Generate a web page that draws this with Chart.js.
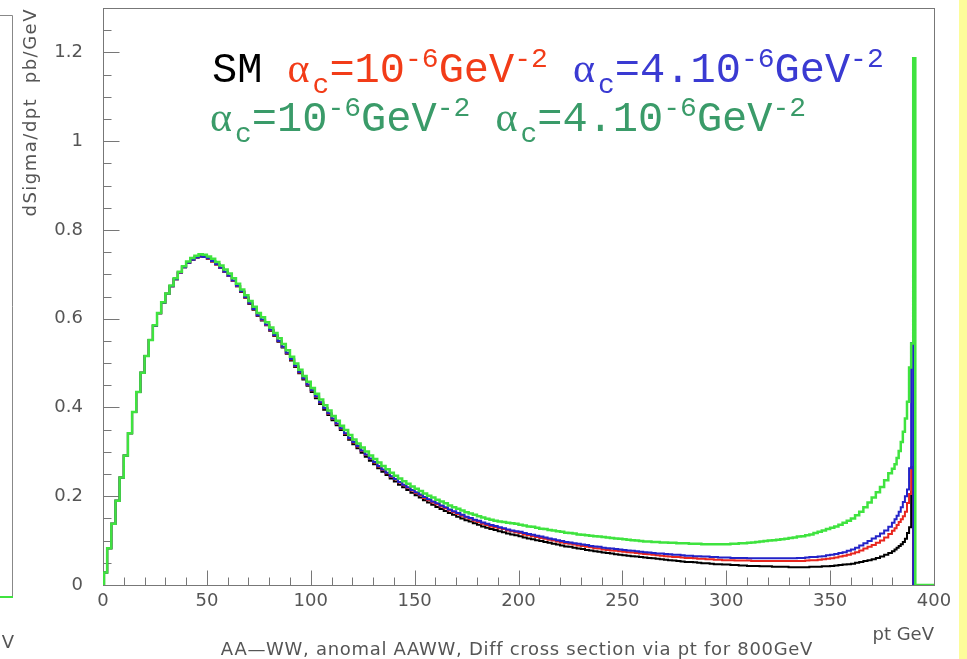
<!DOCTYPE html>
<html><head><meta charset="utf-8">
<script src="https://cdn.jsdelivr.net/npm/chart.js@4.4.0/dist/chart.umd.min.js"></script>
<style>html,body{margin:0;padding:0;background:#fff;overflow:hidden}canvas{display:block}</style>
</head><body>
<canvas id="c" width="967" height="659"></canvas>
<script>
// ---- histogram binning (GeV): [from, to, bin width]
const binLayout = [[0, 380, 2], [380, 391, 1]];
const binCenters = [];
for (const [a, b, w] of binLayout) for (let e = a; e < b - 1e-9; e += w) binCenters.push(e + w / 2);

// ---- series values (pb/GeV), one per bin
const smValues = [
 0.028,0.083,0.138,0.190,0.242,0.292,0.342,0.390,0.435,0.478,
 0.516,0.552,0.584,0.612,0.636,0.656,0.673,0.689,0.704,0.716,
 0.726,0.733,0.738,0.740,0.739,0.735,0.729,0.722,0.714,0.705,
 0.696,0.685,0.673,0.660,0.647,0.633,0.620,0.606,0.596,0.585,
 0.573,0.561,0.548,0.535,0.521,0.506,0.491,0.477,0.463,0.449,
 0.435,0.421,0.408,0.395,0.383,0.371,0.360,0.349,0.338,0.327,
 0.317,0.308,0.298,0.289,0.280,0.272,0.263,0.255,0.248,0.240,
 0.233,0.226,0.220,0.214,0.208,0.202,0.197,0.191,0.186,0.181,
 0.176,0.171,0.167,0.162,0.158,0.154,0.150,0.146,0.143,0.139,
 0.136,0.132,0.129,0.126,0.124,0.121,0.119,0.116,0.114,0.112,
 0.110,0.107,0.105,0.103,0.101,0.099,0.097,0.095,0.093,0.091,
 0.089,0.087,0.086,0.084,0.082,0.081,0.079,0.078,0.076,0.075,
 0.073,0.072,0.071,0.069,0.068,0.067,0.066,0.065,0.064,0.063,
 0.062,0.061,0.060,0.059,0.058,0.057,0.056,0.055,0.054,0.053,
 0.052,0.052,0.051,0.050,0.049,0.049,0.048,0.047,0.047,0.046,
 0.046,0.045,0.045,0.044,0.044,0.043,0.043,0.043,0.042,0.042,
 0.042,0.041,0.041,0.041,0.041,0.040,0.040,0.040,0.040,0.040,
 0.041,0.041,0.041,0.042,0.042,0.043,0.044,0.045,0.046,0.047,
 0.048,0.050,0.052,0.054,0.056,0.058,0.061,0.064,0.068,0.072,
 0.076,0.080,0.084,0.088,0.092,0.097,0.104,0.117,0.130,0.210,0
];
const alpha1Values = [
 0.028,0.083,0.138,0.190,0.242,0.292,0.342,0.390,0.435,0.478,
 0.516,0.552,0.584,0.612,0.636,0.656,0.673,0.689,0.704,0.716,
 0.726,0.733,0.738,0.740,0.739,0.735,0.729,0.722,0.714,0.705,
 0.696,0.685,0.673,0.661,0.648,0.634,0.621,0.607,0.597,0.586,
 0.574,0.562,0.549,0.536,0.522,0.508,0.493,0.479,0.465,0.451,
 0.438,0.424,0.411,0.398,0.386,0.374,0.363,0.352,0.341,0.330,
 0.321,0.312,0.302,0.293,0.284,0.276,0.267,0.259,0.252,0.244,
 0.238,0.231,0.225,0.219,0.213,0.207,0.202,0.196,0.191,0.186,
 0.182,0.177,0.173,0.168,0.164,0.160,0.156,0.152,0.149,0.145,
 0.142,0.138,0.135,0.132,0.130,0.128,0.126,0.123,0.121,0.119,
 0.117,0.114,0.112,0.110,0.108,0.106,0.104,0.102,0.100,0.098,
 0.096,0.094,0.093,0.091,0.089,0.088,0.086,0.085,0.083,0.082,
 0.080,0.079,0.078,0.077,0.076,0.075,0.074,0.073,0.072,0.071,
 0.070,0.069,0.068,0.067,0.066,0.065,0.064,0.063,0.063,0.062,
 0.061,0.061,0.060,0.059,0.059,0.058,0.058,0.057,0.057,0.056,
 0.056,0.056,0.055,0.055,0.055,0.055,0.054,0.054,0.054,0.054,
 0.054,0.054,0.054,0.054,0.054,0.054,0.054,0.054,0.054,0.055,
 0.056,0.056,0.057,0.058,0.059,0.060,0.062,0.064,0.066,0.068,
 0.071,0.074,0.078,0.082,0.086,0.090,0.095,0.100,0.107,0.115,
 0.122,0.128,0.135,0.142,0.148,0.155,0.165,0.185,0.205,0.266,0
];
const alpha4Values = [
 0.028,0.083,0.138,0.190,0.242,0.292,0.342,0.390,0.435,0.478,
 0.516,0.552,0.584,0.612,0.636,0.656,0.673,0.689,0.704,0.716,
 0.726,0.733,0.738,0.740,0.739,0.736,0.730,0.723,0.715,0.706,
 0.697,0.686,0.674,0.662,0.649,0.635,0.622,0.608,0.598,0.587,
 0.575,0.563,0.550,0.537,0.523,0.509,0.494,0.480,0.466,0.452,
 0.439,0.425,0.412,0.399,0.387,0.375,0.364,0.353,0.342,0.331,
 0.322,0.313,0.303,0.294,0.285,0.277,0.268,0.260,0.253,0.245,
 0.239,0.232,0.226,0.220,0.214,0.209,0.204,0.198,0.193,0.188,
 0.184,0.179,0.175,0.170,0.166,0.162,0.158,0.154,0.151,0.147,
 0.145,0.141,0.138,0.135,0.133,0.130,0.128,0.125,0.123,0.121,
 0.120,0.117,0.115,0.113,0.111,0.109,0.107,0.105,0.103,0.101,
 0.099,0.097,0.096,0.094,0.093,0.091,0.090,0.088,0.087,0.086,
 0.084,0.083,0.082,0.081,0.080,0.079,0.078,0.077,0.076,0.075,
 0.074,0.073,0.072,0.071,0.071,0.070,0.069,0.068,0.068,0.067,
 0.066,0.066,0.065,0.065,0.064,0.064,0.063,0.063,0.062,0.062,
 0.062,0.061,0.061,0.061,0.061,0.060,0.060,0.060,0.060,0.060,
 0.060,0.060,0.060,0.060,0.060,0.060,0.060,0.061,0.061,0.062,
 0.063,0.063,0.064,0.065,0.067,0.068,0.070,0.072,0.074,0.077,
 0.080,0.084,0.089,0.094,0.099,0.105,0.110,0.116,0.123,0.131,
 0.140,0.148,0.156,0.165,0.175,0.187,0.200,0.215,0.263,0.545,0
];
const alphaGreenValues = [
 0.028,0.083,0.138,0.190,0.242,0.292,0.342,0.390,0.435,0.478,
 0.516,0.552,0.585,0.613,0.637,0.657,0.675,0.691,0.706,0.718,
 0.729,0.737,0.742,0.745,0.744,0.740,0.735,0.728,0.720,0.711,
 0.702,0.691,0.679,0.666,0.653,0.640,0.627,0.613,0.603,0.592,
 0.580,0.568,0.556,0.543,0.529,0.514,0.499,0.485,0.471,0.458,
 0.444,0.431,0.418,0.405,0.393,0.381,0.370,0.359,0.349,0.338,
 0.328,0.319,0.310,0.301,0.292,0.284,0.276,0.268,0.261,0.253,
 0.246,0.240,0.234,0.228,0.222,0.217,0.212,0.206,0.201,0.197,
 0.192,0.188,0.184,0.179,0.175,0.172,0.168,0.164,0.161,0.158,
 0.155,0.152,0.149,0.147,0.145,0.143,0.142,0.140,0.139,0.138,
 0.136,0.134,0.132,0.131,0.129,0.127,0.126,0.124,0.123,0.121,
 0.120,0.118,0.117,0.116,0.114,0.113,0.112,0.111,0.110,0.109,
 0.108,0.107,0.106,0.105,0.104,0.103,0.102,0.101,0.100,0.099,
 0.098,0.098,0.097,0.097,0.096,0.096,0.095,0.095,0.094,0.094,
 0.094,0.093,0.093,0.093,0.092,0.092,0.092,0.092,0.092,0.092,
 0.092,0.093,0.093,0.094,0.094,0.095,0.096,0.097,0.098,0.099,
 0.100,0.101,0.102,0.103,0.104,0.106,0.107,0.109,0.110,0.112,
 0.114,0.117,0.120,0.123,0.126,0.129,0.132,0.136,0.140,0.145,
 0.150,0.157,0.165,0.175,0.186,0.197,0.209,0.221,0.236,0.252,
 0.262,0.272,0.286,0.302,0.322,0.345,0.375,0.413,0.490,0.544,1.187
];

// ---- axes
const xRange = [0, 400];
const yRange = [0, 1.3];
const xTickValues = [0, 50, 100, 150, 200, 250, 300, 350, 400];
const xTickLabels = ['0', '50', '100', '150', '200', '250', '300', '350', '400'];
const xMinorStep = 10;
const yTickValues = [0, 0.2, 0.4, 0.6, 0.8, 1.0, 1.2];
const yTickLabels = ['0', '0.2', '0.4', '0.6', '0.8', '1', '1.2'];
const yMinorStep = 0.05;
const xAxisTitle = 'pt GeV';
const yAxisTitle = 'dSigma/dpt  pb/GeV';
const plotTitle = 'AA\u2014WW, anomal AAWW, Diff cross section via pt for 800GeV';

// ---- legend
const legendSM = 'SM';
const legendCoeffs = ['10', '4.10'];
const legendExp = ['-6', '-2'];

const COL = { sm: '#000000', red: '#e8261e', blue: '#2323c8', green: '#3fe33f' };
const TXT = { red: '#f23c18', blue: '#3a3ad2', green: '#3a9b69' };

function toPoints(vals) {
  const pts = [{ x: 0, y: 0 }];
  binCenters.forEach((c, i) => pts.push({ x: c, y: vals[i] }));
  pts.push({ x: 391.5, y: 0 }, { x: 400, y: 0 });
  return pts;
}

const MONO = '42px "Liberation Mono"', SMALL = '28px "Liberation Mono"', GREEK = '42px "Liberation Serif"';
function alphaSegs(color, coeff) {
  return [
    { t: '\u03b1', font: GREEK, color, pad: 3 },
    { t: 'c', font: SMALL, color, dy: 11 },
    { t: '=' + coeff, font: MONO, color },
    { t: legendExp[0], font: SMALL, color, dy: -15 },
    { t: 'GeV', font: MONO, color },
    { t: legendExp[1], font: SMALL, color, dy: -15 }
  ];
}
function drawRich(ctx, x, y, segs) {
  ctx.textAlign = 'left'; ctx.textBaseline = 'alphabetic';
  for (const s of segs) {
    ctx.font = s.font; ctx.fillStyle = s.color || '#000';
    ctx.fillText(s.t, x, y + (s.dy || 0));
    x += ctx.measureText(s.t).width + (s.pad || 0);
  }
}

const rootStyle = {
  id: 'rootStyle',
  beforeDraw(chart) {
    const ctx = chart.ctx;
    ctx.save();
    ctx.fillStyle = '#ffffff'; ctx.fillRect(0, 0, chart.width, chart.height);
    ctx.fillStyle = '#fdfd9a'; ctx.fillRect(959, 0, 8, chart.height);
    // remnant of neighbouring pad on the left
    ctx.strokeStyle = '#888'; ctx.lineWidth = 1;
    ctx.beginPath(); ctx.moveTo(0, 15.5); ctx.lineTo(12.5, 15.5); ctx.lineTo(12.5, 597); ctx.stroke();
    ctx.strokeStyle = COL.green; ctx.lineWidth = 2;
    ctx.beginPath(); ctx.moveTo(0, 597); ctx.lineTo(13, 597); ctx.stroke();
    ctx.fillStyle = '#555'; ctx.font = '18px "DejaVu Sans"'; ctx.textAlign = 'center'; ctx.textBaseline = 'middle';
    ctx.fillText('V', 8, 643);
    ctx.restore();
  },
  beforeDatasetsDraw(chart) {
    const { ctx, scales: { x, y } } = chart;
    const L = Math.round(x.getPixelForValue(xRange[0])) + 0.5, R = Math.round(x.getPixelForValue(xRange[1])) + 0.5;
    const B = Math.round(y.getPixelForValue(yRange[0])) + 0.5, T = Math.round(y.getPixelForValue(yRange[1])) + 0.5;
    ctx.save();
    ctx.strokeStyle = '#777'; ctx.lineWidth = 1;
    ctx.strokeRect(L, T, R - L, B - T);
    ctx.beginPath();
    for (let v = xRange[0]; v <= xRange[1] + 1e-9; v += xMinorStep) {
      const px = Math.round(x.getPixelForValue(v)) + 0.5;
      const major = xTickValues.some(t => Math.abs(t - v) < 1e-6);
      ctx.moveTo(px, B); ctx.lineTo(px, B - (major ? 15 : 8));
    }
    for (let v = yRange[0]; v <= yRange[1] + 1e-9; v += yMinorStep) {
      const py = Math.round(y.getPixelForValue(v)) + 0.5;
      const major = yTickValues.some(t => Math.abs(t - v) < 1e-6);
      ctx.moveTo(L, py); ctx.lineTo(L + (major ? 16 : 8), py);
    }
    ctx.stroke();
    ctx.restore();
  },
  afterDraw(chart) {
    const { ctx, scales: { x, y } } = chart;
    const L = x.getPixelForValue(xRange[0]), R = x.getPixelForValue(xRange[1]), B = y.getPixelForValue(yRange[0]);
    ctx.save();
    ctx.fillStyle = '#555';
    ctx.font = '18px "DejaVu Sans"';
    ctx.textAlign = 'center'; ctx.textBaseline = 'middle';
    xTickValues.forEach((v, i) => ctx.fillText(xTickLabels[i], x.getPixelForValue(v), B + 16));
    ctx.textAlign = 'right';
    yTickValues.forEach((v, i) => ctx.fillText(yTickLabels[i], L - 20, y.getPixelForValue(v)));
    // axis titles
    ctx.textAlign = 'right'; ctx.textBaseline = 'alphabetic';
    ctx.fillText(xAxisTitle, R, 640);
    ctx.save();
    ctx.translate(31, 8); ctx.rotate(-Math.PI / 2);
    ctx.letterSpacing = '1.5px';
    ctx.textAlign = 'right'; ctx.textBaseline = 'middle';
    ctx.fillText(yAxisTitle, 0, 0);
    ctx.restore();
    // bottom title
    ctx.font = '18px "DejaVu Sans"';
    ctx.letterSpacing = '0.7px';
    ctx.textAlign = 'center'; ctx.textBaseline = 'alphabetic';
    ctx.fillText(plotTitle, 517, 655);
    ctx.letterSpacing = '0px';
    // legend text
    drawRich(ctx, 212, 82, [{ t: legendSM + ' ', font: MONO, color: COL.sm }, ...alphaSegs(TXT.red, legendCoeffs[0]),
      { t: ' ', font: MONO }, ...alphaSegs(TXT.blue, legendCoeffs[1])]);
    drawRich(ctx, 210, 131, [...alphaSegs(TXT.green, legendCoeffs[0]), { t: ' ', font: MONO },
      ...alphaSegs(TXT.green, legendCoeffs[1])]);
    ctx.restore();
  }
};

const ds = (label, vals, color, width, order) => ({
  label, data: toPoints(vals), borderColor: color, borderWidth: width,
  stepped: 'middle', pointRadius: 0, fill: false, order
});

new Chart(document.getElementById('c'), {
  type: 'line',
  data: {
    datasets: [
      ds('SM', smValues, COL.sm, 2, 3),
      ds('alpha_c=1e-6', alpha1Values, COL.red, 2, 2),
      ds('alpha_c=4e-6', alpha4Values, COL.blue, 2, 1),
      ds('alpha_c (green)', alphaGreenValues, COL.green, 2.5, 0)
    ]
  },
  options: {
    responsive: false, animation: false, devicePixelRatio: 1,
    layout: { padding: { left: 103, right: 33, top: 8, bottom: 74 } },
    plugins: { legend: { display: false }, tooltip: { enabled: false }, title: { display: false } },
    scales: {
      x: { type: 'linear', min: xRange[0], max: xRange[1], display: false },
      y: { type: 'linear', min: yRange[0], max: yRange[1], display: false }
    }
  },
  plugins: [rootStyle]
});
</script>
</body></html>
